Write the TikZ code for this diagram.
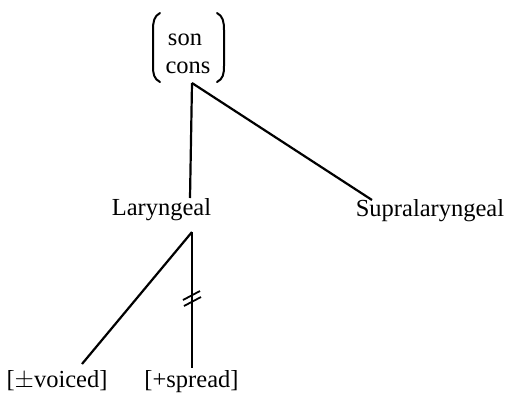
\documentclass[tikz,border=0pt]{standalone}
\usepackage{fontspec}
\setmainfont{Liberation Serif}
\begin{document}
\begin{tikzpicture}[x=1pt,y=-1pt,
  lbl/.style={anchor=base,inner sep=0pt,font=\fontsize{24.5}{28}\selectfont},
  edge/.style={line width=2.2pt},
  brk/.style={line width=2pt,line cap=round}]
\useasboundingbox (0,0) rectangle (506,392);
% top matrix
\node[lbl] (son) at (185,45) {son};
\node[lbl] (cons) at (188,73) {cons};
\draw[brk] (160,13) .. controls (154,16) and (153,22) .. (153,30) -- (153,66) .. controls (153,74) and (154,79) .. (160,82);
\draw[brk] (217,13) .. controls (223,16) and (224,22) .. (224,30) -- (224,66) .. controls (224,74) and (223,79) .. (217,82);
% labels
\node[lbl] (lar) at (161.5,215) {Laryngeal};
\node[lbl] (supra) at (430,216) {Supralaryngeal};
\node[lbl] (voiced) at (57,387) {[$\pm$voiced]};
\node[lbl] (spread) at (191.5,387) {[+spread]};
% connection points
\coordinate (top) at (192,83);
\coordinate (larT) at (190,198);
\coordinate (larB) at (192,232);
\coordinate (supT) at (372,200);
\coordinate (voiT) at (82,364);
\coordinate (sprT) at (192,368);
\draw[edge] (top) -- (larT);
\draw[edge] (top) -- (supT);
\draw[edge] (larB) -- (voiT);
\draw[edge] (larB) -- (sprT);
% delinking marks
\coordinate (dl) at (192,299);
\draw[line width=1.8pt] ([shift={(-9,1)}]dl) -- ([shift={(8,-8)}]dl);
\draw[line width=1.8pt] ([shift={(-8,7)}]dl) -- ([shift={(9,-2)}]dl);
\end{tikzpicture}
\end{document}
